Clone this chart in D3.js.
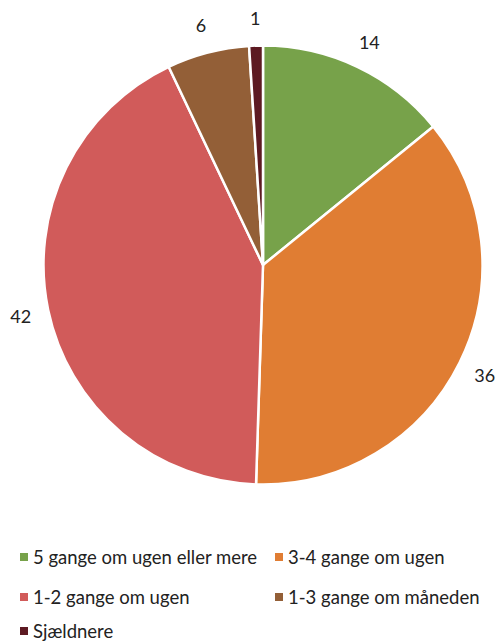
<!DOCTYPE html>
<html><head><meta charset="utf-8">
<script src="https://cdn.jsdelivr.net/npm/d3@7"></script>
<style>body{margin:0;background:#fff}svg{display:block}text{font-family:Lato,"Open Sans",sans-serif;fill:#222}</style>
</head><body>
<script>
const categories = ["5 gange om ugen eller mere","3-4 gange om ugen","1-2 gange om ugen","1-3 gange om måneden","Sjældnere"];
const values = [14,36,42,6,1];
const colors = ["#77a24a","#e07d33","#d15b5a","#935f37","#5d1a22"];

const W=497,H=641, cx=263, cy=265, R=219.5;
const svg=d3.select("body").append("svg").attr("width",W).attr("height",H);
const pie=d3.pie().sort(null).value(d=>d)(values);
const arc=d3.arc().innerRadius(0).outerRadius(R);
const g=svg.append("g").attr("transform",`translate(${cx},${cy})`);
g.selectAll("path").data(pie).join("path").attr("d",arc)
 .attr("fill",(d,i)=>colors[i]).attr("stroke","#fff").attr("stroke-width",2.5).attr("stroke-linejoin","round");
const lab=d3.arc().innerRadius(R+28).outerRadius(R+28);
g.selectAll("text.v").data(pie).join("text").attr("class","v")
 .attr("x",d=>lab.centroid(d)[0])
 .attr("y",d=>lab.centroid(d)[1])
 .attr("text-anchor","middle").attr("dominant-baseline","central")
 .style("font-size","18px").text(d=>d.data);

const leg=svg.append("g");
const items=leg.selectAll("g").data(categories).join("g")
 .attr("transform",(d,i)=>`translate(${i%2?275:20},${[557,597,631][Math.floor(i/2)]})`);
items.append("rect").attr("x",0).attr("y",-4).attr("width",8).attr("height",8).attr("fill",(d,i)=>colors[i]);
items.append("text").attr("x",13).attr("y",0).attr("dominant-baseline","central").style("font-size","18.5px").text(d=>d);
</script>
</body></html>
